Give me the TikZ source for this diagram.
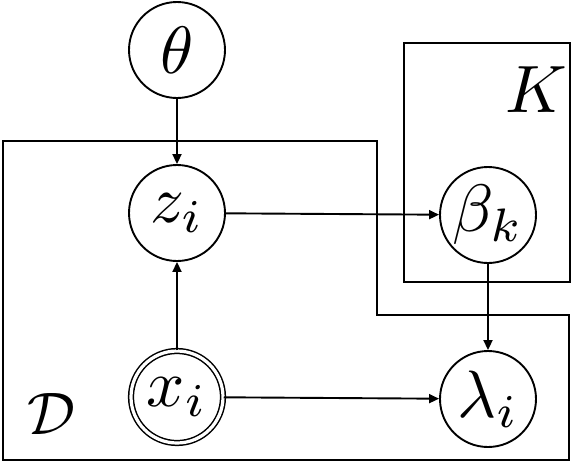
\documentclass[tikz,border=0pt]{standalone}
\usepackage{graphicx}
\usetikzlibrary{arrows.meta}
\newcommand{\mylbl}[2]{\scalebox{#1}{$#2$}}
\begin{document}
\begin{tikzpicture}[x=1pt,y=-1pt,
  lw/.style={line width=1.9pt},
  var/.style={circle, draw, lw, minimum size=96pt, inner sep=0pt},
  obs/.style={var, minimum size=92pt, double, double distance=3.2pt, line width=1.5pt},
  edge/.style={lw, -{Triangle[length=10pt,width=9pt]}},
  plate/.style={lw}]
\useasboundingbox (0,0) rectangle (572,466);
\node[var] (theta) at (177,50) {\mylbl{6.7}{\theta}};
\node[var] (z) at (177,213) {\mylbl{6.7}{z_i}};
\node[var] (beta) at (488,215) {\mylbl{6.7}{\beta_k}};
\node[obs] (x) at (177,397) {\mylbl{6.7}{x_i}};
\node[var] (lambda) at (488,399) {\mylbl{6.7}{\lambda_i}};
\draw[plate] (3,141) -- (377,141) -- (377,315) -- (569,315) -- (569,460) -- (3,460) -- cycle;
\draw[plate] (404,43) rectangle (570,282);
\node[inner sep=0pt] (K) at (536,90) {\mylbl{6.7}{K}};
\node[inner sep=0pt] (D) at (51,414) {\mylbl{6}{\mathcal{D}}};
\draw[edge] (theta) -- (z);
\draw[edge] (z) -- (beta);
\draw[edge] (x) -- (z);
\draw[edge] (x) -- (lambda);
\draw[edge] (beta) -- (lambda);
\end{tikzpicture}
\end{document}
